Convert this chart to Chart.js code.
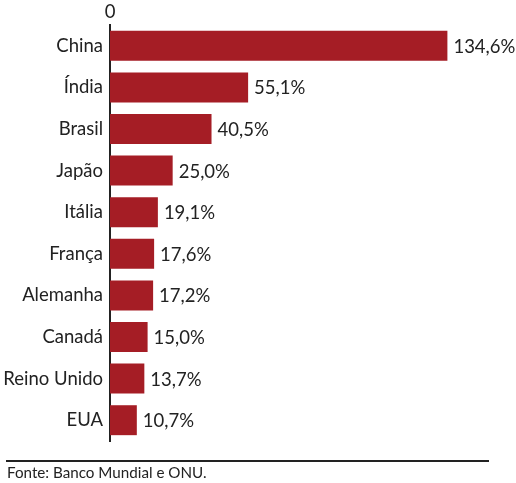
<!DOCTYPE html>
<html>
<head>
<meta charset="utf-8">
<script src="https://cdn.jsdelivr.net/npm/chart.js@4"></script>
<style>
  html, body { margin: 0; padding: 0; background: #fff; }
  #wrap { position: relative; width: 516px; height: 483px; }
  #footer {
    position: absolute; left: 6px; top: 460px; width: 482px;
    border-top: 2px solid #222;
    font-family: Lato, sans-serif; font-size: 15.2px; color: #222;
    padding-top: 1px; padding-left: 1px;
  }
</style>
</head>
<body>
<div id="wrap">
  <canvas id="chart" width="516" height="483"></canvas>
  <div id="footer">Fonte: Banco Mundial e ONU.</div>
</div>
<script>
// Data
const countries = ['China', 'Índia', 'Brasil', 'Japão', 'Itália', 'França', 'Alemanha', 'Canadá', 'Reino Unido', 'EUA'];
const shares    = [134.6, 55.1, 40.5, 25.0, 19.1, 17.6, 17.2, 15.0, 13.7, 10.7];
const xTicks    = [0];

const BAR_COLOR  = '#a51d25';
const TEXT_COLOR = '#222';
const FONT = 'Lato, sans-serif';
const FONT_SIZE = 18.5;

function fmt(v) {
    return v.toFixed(1).replace('.', ',') + '%';
}

// value labels to the right of each bar
const valueLabels = {
    id: 'valueLabels',
    afterDatasetsDraw(chart) {
        const ctx = chart.ctx;
        const meta = chart.getDatasetMeta(0);
        ctx.save();
        ctx.font = FONT_SIZE + 'px ' + FONT;
        ctx.fillStyle = TEXT_COLOR;
        ctx.textAlign = 'left';
        ctx.textBaseline = 'middle';
        meta.data.forEach(function (bar, i) {
            ctx.fillText(fmt(shares[i]), bar.x + 6, bar.y + 1);
        });
        ctx.restore();
    }
};

new Chart(document.getElementById('chart'), {
    type: 'bar',
    data: {
        labels: countries,
        datasets: [{
            data: shares,
            backgroundColor: BAR_COLOR,
            borderWidth: 0,
            categoryPercentage: 0.72,
            barPercentage: 1.0,
        }],
    },
    options: {
        indexAxis: 'y',
        responsive: false,
        animation: false,
        layout: { padding: { left: 0, right: 30, top: 0, bottom: 42 } },
        plugins: {
            legend: { display: false },
            tooltip: { enabled: false },
        },
        scales: {
            x: {
                position: 'top',
                min: 0,
                max: 150,
                afterBuildTicks: function (axis) {
                    axis.ticks = xTicks.map(function (v) { return { value: v }; });
                },
                afterFit: function (axis) { axis.height = 25; },
                ticks: {
                    color: TEXT_COLOR,
                    font: { family: FONT, size: FONT_SIZE },
                    padding: 2,
                    maxRotation: 0,
                },
                grid: { display: false, drawTicks: false },
                border: { display: false },
            },
            y: {
                afterFit: function (axis) { axis.width = 110; },
                ticks: {
                    color: TEXT_COLOR,
                    font: { family: FONT, size: FONT_SIZE },
                    padding: 7,
                },
                grid: { display: false, drawTicks: false },
                border: { display: true, color: '#222', width: 2 },
            },
        },
    },
    plugins: [valueLabels],
});
</script>
</body>
</html>
